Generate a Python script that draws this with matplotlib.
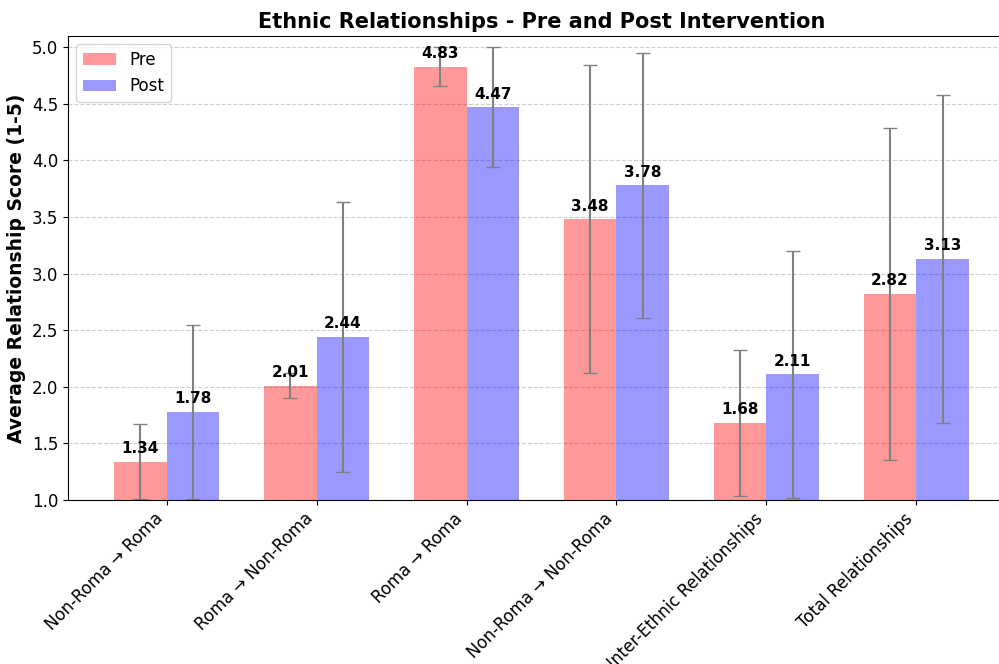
import numpy as np
import matplotlib
matplotlib.use("Agg")
import matplotlib.pyplot as plt

categories = ["Non-Roma → Roma", "Roma → Non-Roma", "Roma → Roma",
              "Non-Roma → Non-Roma", "Inter-Ethnic Relationships", "Total Relationships"]
pre_means = [1.34, 2.01, 4.83, 3.48, 1.68, 2.82]
post_means = [1.78, 2.44, 4.47, 3.78, 2.11, 3.13]
pre_std = [0.33, 0.11, 0.17, 1.36, 0.645, 1.47]
post_std = [0.77, 1.19, 0.53, 1.17, 1.09, 1.45]


def clipped_err(means, stds, lo=1.0, hi=5.0):
    # error bars kept inside the 1-5 scale
    m = np.array(means)
    s = np.array(stds)
    lower = np.minimum(s, m - lo)
    upper = np.minimum(s, hi - m)
    return [lower, upper]


x = np.arange(len(categories))
width = 0.35

fig = plt.figure(figsize=(9.99, 6.64), dpi=100)
ax = fig.add_axes([68 / 999, 164 / 664, (1015 - 68) / 999, (500 - 36) / 664])

err_kw = dict(ecolor="gray", capsize=5, elinewidth=1.5, capthick=1)
bars_pre = ax.bar(x - width / 2, pre_means, width, label="Pre", color="red", alpha=0.4,
                  yerr=clipped_err(pre_means, pre_std), error_kw=err_kw)
bars_post = ax.bar(x + width / 2, post_means, width, label="Post", color="blue", alpha=0.4,
                   yerr=clipped_err(post_means, post_std), error_kw=err_kw)

for bars in (bars_pre, bars_post):
    for b in bars:
        h = b.get_height()
        ax.text(b.get_x() + b.get_width() / 2, h + 0.05, f"{h:.2f}",
                ha="center", va="bottom", fontweight="bold", fontsize=11)

ax.set_ylim(1.0, 5.1)
ax.set_xlim(-0.658, 5.658)
ax.set_xticks(x)
ax.set_xticklabels(categories, rotation=45, ha="right", fontsize=12)
ax.tick_params(axis="y", labelsize=12)
ax.set_ylabel("Average Relationship Score (1-5)", fontsize=13.5, fontweight="bold")
ax.set_title("Ethnic Relationships - Pre and Post Intervention", fontsize=15, fontweight="bold")
ax.yaxis.grid(True, linestyle="--", alpha=0.6)
ax.set_axisbelow(True)
ax.legend(loc="upper left", fontsize=12)

fig.savefig("out.png", dpi=100)
